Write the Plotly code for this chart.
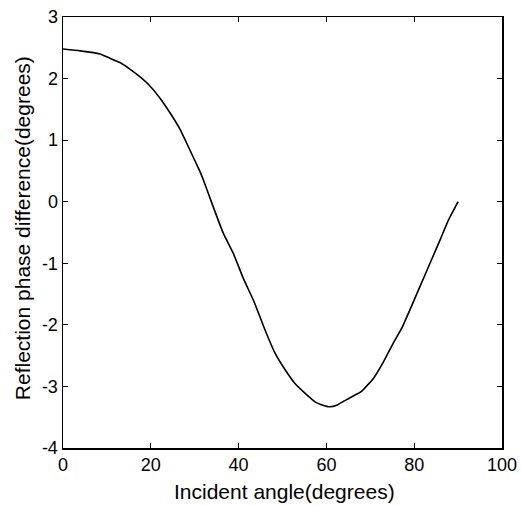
import plotly.graph_objects as go

angle = [0, 3.9, 8.4, 10.7, 13, 15.3, 17.5, 19.8, 22.1, 24.4, 26.7, 28.9, 31, 32,
         34.2, 36.5, 38.8, 41.1, 43.5, 46, 48.3, 50.6, 52.8, 55.1, 57.4, 59, 60.8,
         62.5, 64.2, 66, 68, 70.7, 73, 75.2, 77.2, 79, 81.3, 83.6, 85.9, 87.8, 90]
phase_diff = [2.48, 2.45, 2.40, 2.33, 2.26, 2.15, 2.03, 1.88, 1.68, 1.44, 1.17, 0.84,
              0.52, 0.35, -0.08, -0.51, -0.84, -1.25, -1.62, -2.08, -2.46, -2.73,
              -2.95, -3.11, -3.25, -3.30, -3.33, -3.30, -3.23, -3.16, -3.08, -2.87,
              -2.60, -2.30, -2.05, -1.76, -1.38, -1.00, -0.62, -0.30, 0.0]

x_ticks = [0, 20, 40, 60, 80, 100]
y_ticks = [-4, -3, -2, -1, 0, 1, 2, 3]
x_title = "Incident angle(degrees)"
y_title = "Reflection phase difference(degrees)"

fig = go.Figure()
fig.add_trace(go.Scatter(x=angle, y=phase_diff, mode="lines",
                         line=dict(color="black", width=1.6, shape="spline", smoothing=0.4),
                         showlegend=False))

font_family = "Liberation Sans, Arial, Helvetica, sans-serif"
axis_common = dict(showline=True, linecolor="black", linewidth=1.5, mirror="ticks",
                   ticks="inside", ticklen=5, tickwidth=1, tickcolor="black",
                   showgrid=False, zeroline=False, automargin=False,
                   tickfont=dict(family=font_family, size=18, color="black"))

fig.update_layout(
    width=521, height=506,
    margin=dict(l=63, r=19, t=17, b=58, autoexpand=False),
    paper_bgcolor="white", plot_bgcolor="white",
    xaxis=dict(range=[0, 100], tickvals=x_ticks, ticktext=[str(v) for v in x_ticks],
               **axis_common),
    yaxis=dict(range=[-4, 3], tickvals=y_ticks, ticktext=[str(v) for v in y_ticks],
               **axis_common),
    annotations=[
        dict(text=x_title, xref="paper", yref="paper", x=0.505, y=0,
             xanchor="center", yanchor="middle", yshift=-43, showarrow=False,
             font=dict(family=font_family, size=21, color="black")),
        dict(text=y_title, xref="paper", yref="paper", x=0, y=0.51,
             xanchor="center", yanchor="middle", xshift=-41, textangle=-90,
             showarrow=False,
             font=dict(family=font_family, size=21, color="black")),
    ],
)

fig.write_html("out.html",
               config={"displayModeBar": False, "staticPlot": True},
               post_script="document.body.style.margin='0';document.body.style.overflow='hidden';")
